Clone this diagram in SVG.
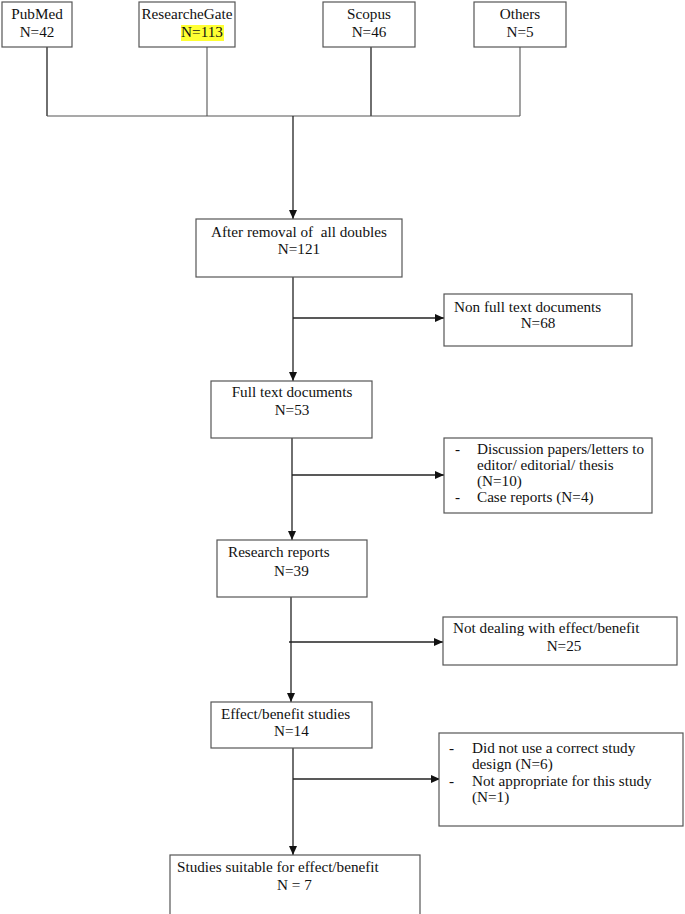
<svg xmlns="http://www.w3.org/2000/svg" width="685" height="914" viewBox="0 0 685 914">
<style>
.box{fill:#fff;stroke:#555;stroke-width:1.2}
.t{font-family:"Liberation Serif","Times New Roman",serif;font-size:15.2px;fill:#111;white-space:pre}
.c{text-anchor:middle}
.ln{fill:none;stroke:#222;stroke-width:1.3}
.lg{fill:none;stroke:#555;stroke-width:1.1}
</style>
<defs>
<marker id="ah" markerUnits="userSpaceOnUse" markerWidth="9" markerHeight="8" refX="9" refY="4" orient="auto">
<path d="M0,0 L9,4 L0,8 z" fill="#111"/>
</marker>
</defs>
<rect width="685" height="914" fill="#fff"/>
<g id="connectors">
<line class="ln" x1="47" y1="47" x2="47" y2="116"/>
<line class="lg" x1="207" y1="47" x2="207" y2="116"/>
<line class="ln" x1="371" y1="47" x2="371" y2="116"/>
<line class="lg" x1="520" y1="47" x2="520" y2="116"/>
<line class="lg" x1="47" y1="116" x2="520" y2="116"/>
<line class="ln" x1="293" y1="116" x2="293" y2="219" marker-end="url(#ah)"/>
<line class="ln" x1="293" y1="277" x2="293" y2="381" marker-end="url(#ah)"/>
<line class="ln" x1="293" y1="318" x2="444" y2="318" marker-end="url(#ah)"/>
<line class="ln" x1="292" y1="438" x2="292" y2="540" marker-end="url(#ah)"/>
<line class="ln" x1="292" y1="475" x2="444" y2="475" marker-end="url(#ah)"/>
<line class="ln" x1="291" y1="597" x2="291" y2="702" marker-end="url(#ah)"/>
<line class="ln" x1="289" y1="642" x2="443" y2="642" marker-end="url(#ah)"/>
<line class="ln" x1="293" y1="748" x2="293" y2="855" marker-end="url(#ah)"/>
<line class="ln" x1="293" y1="779" x2="440" y2="779" marker-end="url(#ah)"/>
</g>
<g id="pubmed">
<rect class="box" x="2" y="2" width="70" height="45"/>
<text class="t c" x="37" y="19">PubMed</text>
<text class="t c" x="37" y="37">N=42</text>
</g>
<g id="researchgate">
<rect class="box" x="139" y="2" width="96" height="45"/>
<rect x="181" y="25" width="43" height="16" fill="#ffff33"/>
<text class="t c" x="187" y="19">ResearcheGate</text>
<text class="t c" x="202" y="37">N=113</text>
</g>
<g id="scopus">
<rect class="box" x="323" y="2" width="92" height="45"/>
<text class="t c" x="369" y="19">Scopus</text>
<text class="t c" x="369" y="37">N=46</text>
</g>
<g id="others">
<rect class="box" x="474" y="2" width="92" height="45"/>
<text class="t c" x="520" y="19">Others</text>
<text class="t c" x="520" y="37">N=5</text>
</g>
<g id="after-removal">
<rect class="box" x="196" y="219" width="206" height="58"/>
<text class="t c" x="299" y="237">After removal of  all doubles</text>
<text class="t c" x="299" y="254">N=121</text>
</g>
<g id="non-full-text">
<rect class="box" x="444" y="294" width="188" height="52"/>
<text class="t" x="454" y="312">Non full text documents</text>
<text class="t c" x="538" y="328">N=68</text>
</g>
<g id="full-text">
<rect class="box" x="211" y="381" width="161" height="57"/>
<text class="t c" x="292" y="397">Full text documents</text>
<text class="t c" x="292" y="415">N=53</text>
</g>
<g id="discussion">
<rect class="box" x="444" y="438" width="208" height="75"/>
<text class="t" x="455" y="454">-</text>
<text class="t" x="477" y="454">Discussion papers/letters to</text>
<text class="t" x="477" y="470">editor/ editorial/ thesis</text>
<text class="t" x="477" y="486">(N=10)</text>
<text class="t" x="455" y="502">-</text>
<text class="t" x="477" y="502">Case reports (N=4)</text>
</g>
<g id="research-reports">
<rect class="box" x="217" y="540" width="150" height="57"/>
<text class="t" x="228" y="557">Research reports</text>
<text class="t" x="274" y="576">N=39</text>
</g>
<g id="not-dealing">
<rect class="box" x="443" y="617" width="234" height="48"/>
<text class="t" x="453" y="633">Not dealing with effect/benefit</text>
<text class="t c" x="564" y="651">N=25</text>
</g>
<g id="effect-benefit">
<rect class="box" x="211" y="702" width="161" height="46"/>
<text class="t" x="221" y="719">Effect/benefit studies</text>
<text class="t" x="274" y="736">N=14</text>
</g>
<g id="did-not-use">
<rect class="box" x="439" y="733" width="244" height="93"/>
<text class="t" x="449" y="753">-</text>
<text class="t" x="472" y="753">Did not use a correct study</text>
<text class="t" x="472" y="769">design (N=6)</text>
<text class="t" x="449" y="786">-</text>
<text class="t" x="472" y="786">Not appropriate for this study</text>
<text class="t" x="472" y="802">(N=1)</text>
</g>
<g id="suitable">
<rect class="box" x="170" y="855" width="250" height="65"/>
<text class="t" x="177" y="872">Studies suitable for effect/benefit</text>
<text class="t" x="277" y="890">N = 7</text>
</g>
</svg>
